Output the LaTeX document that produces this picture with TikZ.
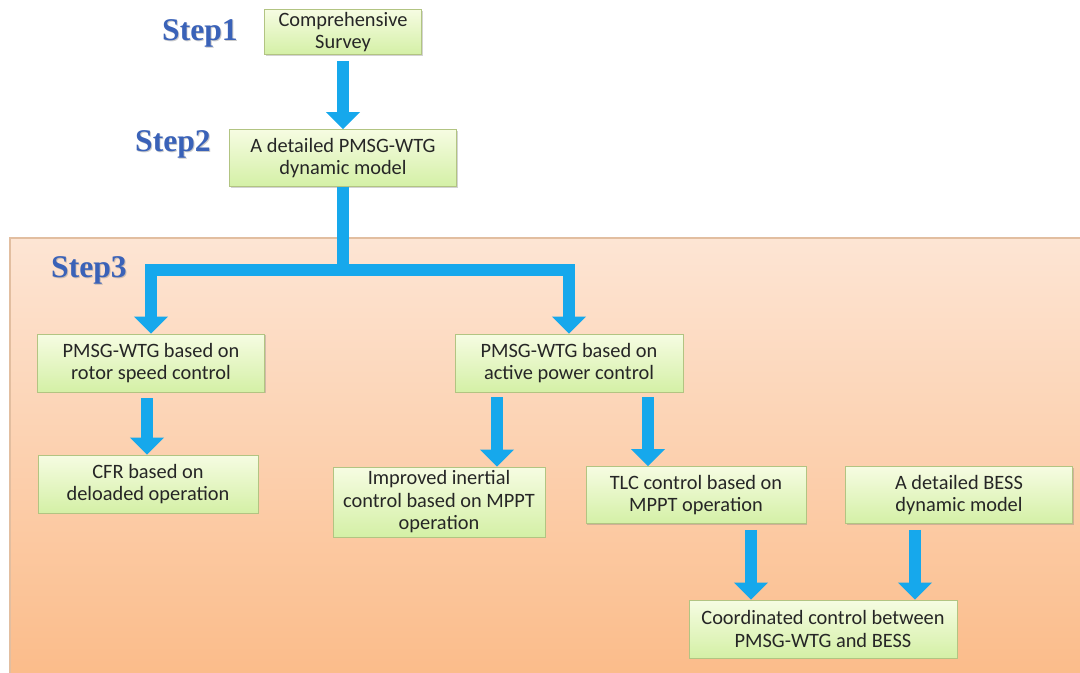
\documentclass[tikz,border=0pt]{standalone}
\usepackage{fontspec}
\setmainfont{Carlito}
\newfontfamily\stepfont{Liberation Serif}
\usetikzlibrary{arrows.meta,shadows,calc}
\definecolor{flowblue}{RGB}{22,168,236}
\definecolor{boxtop}{RGB}{246,252,226}
\definecolor{boxbot}{RGB}{212,240,166}
\definecolor{boxline}{RGB}{178,196,130}
\definecolor{bgtop}{RGB}{253,229,212}
\definecolor{bgbot}{RGB}{251,188,138}
\definecolor{bgline}{RGB}{226,190,160}
\definecolor{steptext}{RGB}{58,98,184}
\tikzset{
  stepbox/.style={draw=boxline, line width=0.5pt, top color=boxtop, bottom color=boxbot,
    align=center, font=\fontsize{11.6}{12.8}\selectfont, text=black!85,
    inner sep=0pt, drop shadow={shadow xshift=0.6pt, shadow yshift=-0.8pt, opacity=0.35}},
  steplabel/.style={font=\stepfont\bfseries\fontsize{18}{20}\selectfont, text=steptext},
  stepshade/.style={font=\stepfont\bfseries\fontsize{18}{20}\selectfont, text=black!45,
    opacity=0.45, xshift=0.5pt, yshift=-0.7pt},
  flow/.style={draw=flowblue, line width=0.24cm, line join=miter,
    -{Triangle[width=0.66cm, length=0.34cm]}},
  trunk/.style={draw=flowblue, line width=0.24cm, line join=miter}
}
\begin{document}
\begin{tikzpicture}[x=0.02cm, y=-0.02cm]
  \useasboundingbox (0,0) rectangle (1080,673);
  % shaded lower panel
  \path[top color=bgtop, bottom color=bgbot, draw=bgline, line width=0.6pt]
    (10,238) rectangle (1082,675);

  % step labels, each with a soft shadow behind it
  \node[stepshade] (s1s) at (200,33) {Step1};
  \node[steplabel] (s1) at (200,33) {Step1};
  \node[stepshade] (s2s) at (173,144) {Step2};
  \node[steplabel] (s2) at (173,144) {Step2};
  \node[stepshade] (s3s) at (89,270) {Step3};
  \node[steplabel] (s3) at (89,270) {Step3};

  % boxes
  \node[stepbox, minimum width=3.14cm, minimum height=0.9cm] (b1) at (343,32)
    {Comprehensive\\Survey};
  \node[stepbox, minimum width=4.54cm, minimum height=1.14cm] (b2) at (343,158)
    {A detailed PMSG-WTG\\dynamic model};
  \node[stepbox, minimum width=4.54cm, minimum height=1.16cm] (b3) at (151,363)
    {PMSG-WTG based on\\rotor speed control};
  \node[stepbox, minimum width=4.56cm, minimum height=1.16cm] (b4) at (569,363)
    {PMSG-WTG based on\\active power control};
  \node[stepbox, minimum width=4.4cm, minimum height=1.16cm] (b5) at (148,484)
    {CFR based on\\deloaded operation};
  \node[stepbox, minimum width=4.24cm, minimum height=1.4cm] (b6) at (439,502)
    {Improved inertial\\control based on MPPT\\operation};
  \node[stepbox, minimum width=4.4cm, minimum height=1.14cm] (b7) at (696,495)
    {TLC control based on\\MPPT operation};
  \node[stepbox, minimum width=4.54cm, minimum height=1.14cm] (b8) at (959,495)
    {A detailed BESS\\dynamic model};
  \node[stepbox, minimum width=5.36cm, minimum height=1.16cm] (b9) at (823,629)
    {Coordinated control between\\PMSG-WTG and BESS};

  % column positions of the lower arrows
  \coordinate (c5) at (147,0);
  \coordinate (c6) at (497,0);
  \coordinate (c7) at (648,0);
  \coordinate (c9a) at (751,0);
  \coordinate (c9b) at (915,0);
  \coordinate (split) at (343,270);

  % connectors
  \draw[flow] ([yshift=-0.12cm]b1.south) -- (b2.north);
  \draw[trunk] (b2.south) -- ([yshift=-0.12cm]split);
  \draw[flow] (split) -| (b3.north);
  \draw[flow] (split) -| (b4.north);
  \draw[flow] ([yshift=-0.12cm]b3.south -| c5) -- (b5.north -| c5);
  \draw[flow] ([yshift=-0.1cm]b4.south -| c6) -- (b6.north -| c6);
  \draw[flow] ([yshift=-0.1cm]b4.south -| c7) -- (b7.north -| c7);
  \draw[flow] ([yshift=-0.12cm]b7.south -| c9a) -- (b9.north -| c9a);
  \draw[flow] ([yshift=-0.12cm]b8.south -| c9b) -- (b9.north -| c9b);
\end{tikzpicture}
\end{document}
